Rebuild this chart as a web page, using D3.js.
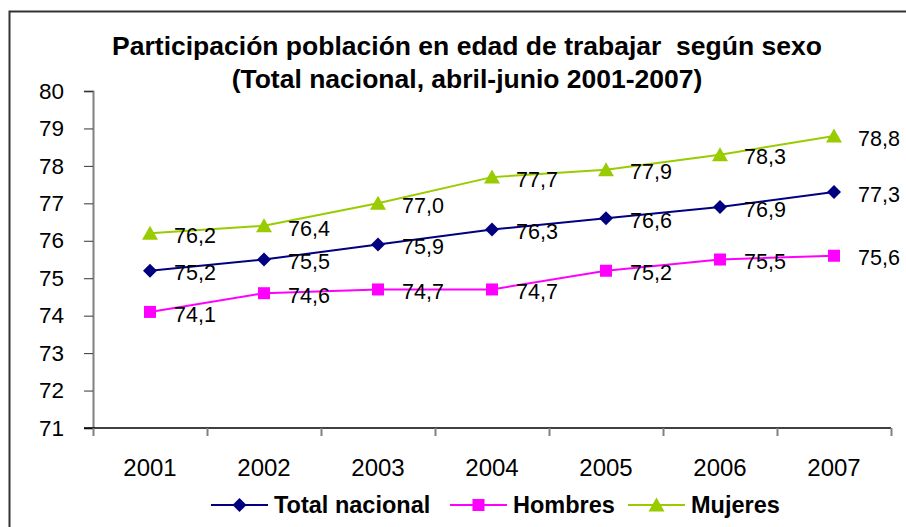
<!DOCTYPE html>
<meta charset="utf-8">
<style>
    body { margin: 0; background: #fff; }
    svg { display: block; }
    text { font-family: Arial, "Liberation Sans", sans-serif; fill: #000; }
    .title { font-weight: bold; font-size: 26.5px; }
    .lbl { font-size: 21.5px; }
    .leg { font-weight: bold; font-size: 23.5px; }
</style>
<body>
<svg id="chart" width="906" height="527"></svg>
<script src="https://cdn.jsdelivr.net/npm/d3@7"></script>
<script>
    // chart data
    var years = ["2001", "2002", "2003", "2004", "2005", "2006", "2007"];
    var total = [75.2, 75.5, 75.9, 76.3, 76.6, 76.9, 77.3];
    var hombres = [74.1, 74.6, 74.7, 74.7, 75.2, 75.5, 75.6];
    var mujeres = [76.2, 76.4, 77.0, 77.7, 77.9, 78.3, 78.8];
    var yTicks = [71, 72, 73, 74, 75, 76, 77, 78, 79, 80];
    var seriesNames = ["Total nacional", "Hombres", "Mujeres"];

    var svg = d3.select("#chart");

    var x = d3.scaleBand().domain(years).range([93, 891]).padding(0),
        y = d3.scaleLinear().domain([71, 80]).range([428, 91]);

    var series = [
        { name: seriesNames[0], values: total, color: "#000080", shape: "diamond" },
        { name: seriesNames[1], values: hombres, color: "#FF00FF", shape: "square" },
        { name: seriesNames[2], values: mujeres, color: "#99CC00", shape: "triangle" }
    ];

    function marker(shape) {
        if (shape == "diamond") return "M0,-7L7,0L0,7L-7,0Z";
        if (shape == "square") return "M-6,-6H6V6H-6Z";
        return "M0,-7.5L8,6.5L-8,6.5Z";
    }

    // outer frame (only top and left edges visible)
    svg.append("path")
        .attr("d", "M9.5,527V11.5H906")
        .attr("fill", "none")
        .attr("stroke", "#333")
        .attr("stroke-width", 2);

    // title
    svg.append("text").attr("class", "title").attr("x", 467).attr("y", 55)
        .attr("text-anchor", "middle")
        .style("white-space", "pre")
        .text("Participación población en edad de trabajar  según sexo");
    svg.append("text").attr("class", "title").attr("x", 467).attr("y", 88)
        .attr("text-anchor", "middle")
        .text("(Total nacional, abril-junio 2001-2007)");

    // y axis
    var yAxis = svg.append("g")
        .attr("transform", "translate(93,0)")
        .call(d3.axisLeft(y).tickValues(yTicks).tickSize(9).tickPadding(20).tickFormat(d3.format("d")));
    yAxis.select(".domain").attr("stroke", "#808080").attr("stroke-width", 2);
    yAxis.selectAll(".tick line").attr("stroke", "#333");
    yAxis.selectAll("text")
        .style("font-size", "22.5px")
        .style("font-family", "Arial, 'Liberation Sans', sans-serif");

    // x axis: ticks on the category boundaries
    var xb = d3.scaleLinear().domain([0, years.length]).range(x.range());
    var xAxis = svg.append("g")
        .attr("transform", "translate(0,428)")
        .call(d3.axisBottom(xb).ticks(years.length).tickSize(8).tickFormat(""));
    xAxis.select(".domain").attr("stroke", "#000").attr("stroke-width", 1.5)
        .attr("d", "M84,0H891");
    xAxis.selectAll(".tick line").attr("stroke", "#808080").attr("stroke-width", 2);

    svg.append("g").selectAll("text").data(years).join("text")
        .style("font-size", "24px")
        .attr("x", function (d) { return x(d) + x.bandwidth() / 2; })
        .attr("y", 476)
        .attr("text-anchor", "middle")
        .text(function (d) { return d; });

    // lines, markers, labels
    var line = d3.line()
        .x(function (d, i) { return x(years[i]) + x.bandwidth() / 2; })
        .y(function (d) { return y(d); });

    var fmt = function (v) { return d3.format(".1f")(v).replace(".", ","); };

    series.forEach(function (s) {
        var g = svg.append("g");
        g.append("path").attr("d", line(s.values))
            .attr("fill", "none").attr("stroke", s.color).attr("stroke-width", 2);
        g.selectAll(".pt").data(s.values).join("path")
            .attr("class", "pt")
            .attr("d", marker(s.shape))
            .attr("fill", s.color)
            .attr("transform", function (d, i) {
                return "translate(" + (x(years[i]) + x.bandwidth() / 2) + "," + y(d) + ")";
            });
        g.selectAll(".vl").data(s.values).join("text")
            .attr("class", "lbl vl")
            .attr("x", function (d, i) { return x(years[i]) + x.bandwidth() / 2 + 24; })
            .attr("y", function (d) { return y(d) + 2; })
            .attr("dy", "0.36em")
            .text(fmt);
    });

    // legend
    var legX = [211, 450, 628];
    series.forEach(function (s, i) {
        var g = svg.append("g").attr("transform", "translate(" + legX[i] + ",505)");
        g.append("line").attr("x1", 0).attr("x2", 57)
            .attr("stroke", s.color).attr("stroke-width", 2);
        g.append("path").attr("d", marker(s.shape)).attr("fill", s.color)
            .attr("transform", "translate(28.5,0)");
        g.append("text").attr("class", "leg").attr("x", 63).attr("dy", "0.36em").text(s.name);
    });
</script>
</body>
